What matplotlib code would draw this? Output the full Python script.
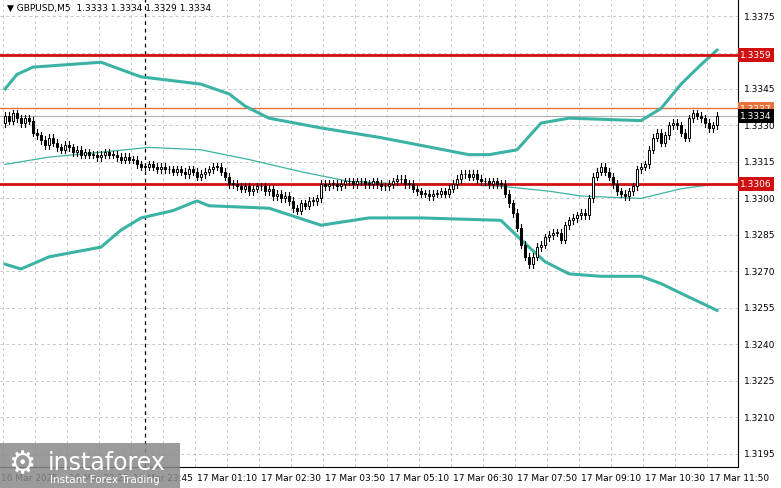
import matplotlib
matplotlib.use("Agg")
import matplotlib.pyplot as plt
from matplotlib.patches import Rectangle

closes = [1.3334,1.3332,1.3335,1.3333,1.3331,1.3333,1.3332,1.3327,1.3326,1.3324,
1.3322,1.3325,1.3323,1.3321,1.3320,1.3322,1.3321,1.3319,1.3320,1.3318,
1.3319,1.3318,1.3318,1.3317,1.3318,1.3319,1.3318,1.3318,1.3317,1.3316,
1.3317,1.3316,1.3316,1.3314,1.3313,1.3313,1.3314,1.3313,1.3312,1.3313,
1.3312,1.3312,1.3311,1.3312,1.3311,1.3310,1.3312,1.3311,1.3309,1.3310,
1.3311,1.3312,1.3313,1.3313,1.3311,1.3309,1.3306,1.3306,1.3305,1.3304,
1.3305,1.3303,1.3304,1.3305,1.3305,1.3303,1.3304,1.3301,1.3302,1.3300,
1.3301,1.3299,1.3296,1.3295,1.3298,1.3297,1.3299,1.3299,1.3300,1.3306,
1.3305,1.3306,1.3306,1.3305,1.3306,1.3307,1.3307,1.3306,1.3307,1.3307,
1.3306,1.3306,1.3307,1.3306,1.3305,1.3305,1.3306,1.3307,1.3308,1.3308,
1.3306,1.3306,1.3304,1.3303,1.3302,1.3302,1.3301,1.3302,1.3302,1.3303,
1.3302,1.3304,1.3306,1.3308,1.3310,1.3310,1.3309,1.3310,1.3308,1.3307,
1.3307,1.3306,1.3307,1.3306,1.3306,1.3302,1.3298,1.3294,1.3288,1.3281,
1.3276,1.3273,1.3276,1.3280,1.3281,1.3284,1.3285,1.3286,1.3286,1.3283,
1.3289,1.3291,1.3292,1.3293,1.3294,1.3293,1.3300,1.3309,1.3311,1.3313,
1.3311,1.3309,1.3306,1.3303,1.3302,1.3301,1.3303,1.3305,1.3312,1.3313,
1.3314,1.3320,1.3325,1.3327,1.3323,1.3326,1.3330,1.3331,1.3330,1.3327,
1.3325,1.3333,1.3335,1.3334,1.3333,1.3331,1.3329,1.3330,1.3334]
first_open = 1.3331
wick = 0.00015

upper_idx = [0,3,7,24,34,44,49,56,60,66,79,94,116,121,128,134,141,159,164,169,174,178]
upper_val = [1.3345,1.3351,1.3354,1.3356,1.3350,1.3348,1.3347,1.3343,1.3338,1.3333,1.3329,1.3325,1.3318,1.3318,1.3320,1.3331,1.3333,1.3332,1.3337,1.3347,1.3355,1.3361]
lower_idx = [0,4,11,24,29,34,42,48,51,66,79,91,104,124,129,135,141,149,159,164,169,178]
lower_val = [1.3273,1.3271,1.3276,1.3280,1.3287,1.3292,1.3295,1.3299,1.3297,1.3296,1.3289,1.3292,1.3292,1.3291,1.3283,1.3274,1.3269,1.3268,1.3268,1.3265,1.3261,1.3254]
mid_idx = [0,11,24,36,49,61,74,86,99,111,124,136,144,159,169,178]
mid_val = [1.3314,1.3317,1.3319,1.3321,1.3320,1.3316,1.3311,1.3307,1.3306,1.3306,1.3305,1.3303,1.3301,1.3300,1.3304,1.3306]

yticks = [1.3375,1.3360,1.3345,1.3330,1.3315,1.3300,1.3285,1.3270,1.3255,1.3240,1.3225,1.3210,1.3195]
xtick_idx = [-1,16,32,48,64,80,96,112,128,144,160,176]
xtick_lab = ["16 Mar 2025","16 Mar 22:25","16 Mar 23:45","17 Mar 01:10","17 Mar 02:30","17 Mar 03:50",
             "17 Mar 05:10","17 Mar 06:30","17 Mar 07:50","17 Mar 09:10","17 Mar 10:30","17 Mar 11:50"]
levels = [1.3359, 1.3306]
orange_level = 1.3337
last_price = 1.3334

fig = plt.figure(figsize=(7.81,4.89), dpi=100)
ax = fig.add_axes([0, 1-468/489, 738/781, 468/489])
ax.set_xlim(-1.25, 183.25)
ax.set_ylim(1.31896, 1.33820)

for t in yticks:
    ax.axhline(t, color="#c8c8c8", lw=0.7, ls=(0,(3,3)), zorder=0)
for k in range(24):
    ax.axvline(-0.5 + 8*k, color="#c8c8c8", lw=0.7, ls=(0,(3,3)), zorder=0)

teal = "#3bb3a4"
ax.plot(upper_idx, upper_val, color=teal, lw=2.2, zorder=2)
ax.plot(lower_idx, lower_val, color=teal, lw=2.2, zorder=2)
ax.plot(mid_idx, mid_val, color=teal, lw=0.9, zorder=2)

ax.axhline(orange_level, color="#e8743b", lw=1.0, zorder=1)
ax.axhline(last_price, color="#b0b0b0", lw=0.8, zorder=1)
for lv in levels:
    ax.axhline(lv, color="#d01010", lw=2.0, zorder=3)
ax.axvline(35, color="black", lw=0.9, ls=(0,(3,3)), zorder=1)

prev = first_open
for i, c in enumerate(closes):
    o = prev
    lo, hi = min(o, c), max(o, c)
    ax.plot([i, i], [lo - wick, hi + wick], color="black", lw=0.8, zorder=4)
    h = max(hi - lo, 0.00002)
    ax.add_patch(Rectangle((i-0.35, lo), 0.7, h, facecolor=("white" if c >= o else "black"),
                           edgecolor="black", lw=0.7, zorder=5))
    prev = c

ax.set_xticks([]); ax.set_yticks([])
for s in ["top","left"]:
    ax.spines[s].set_visible(False)
ax.spines["right"].set_color("black"); ax.spines["bottom"].set_color("black")

for t in yticks:
    ax.text(183.25+1.5, t, f"{t:.4f}", fontsize=6.5, va="center", ha="left", clip_on=False)
def tag(v, txt, fc, tc="white"):
    ax.text(183.25+0.5, v, txt, fontsize=6.5, va="center", ha="left", color=tc, clip_on=False,
            bbox=dict(boxstyle="square,pad=0.25", fc=fc, ec="none"))
tag(levels[0], "1.3359", "#d01010")
tag(levels[1], "1.3306", "#d01010")
tag(orange_level, "1.3337", "#e8743b")
tag(last_price, "1.3334", "black")

for xi, lab in zip(xtick_idx, xtick_lab):
    ax.text(xi, 1.31896-0.00025, lab, fontsize=6.5, va="top", ha="left", clip_on=False)

ax.text(0.5, 1.33820-0.00015, "\u25bc GBPUSD,M5  1.3333 1.3334 1.3329 1.3334", fontsize=6.5, va="top", ha="left")

fig.patches.append(Rectangle((0, 0), 180/781, 45/489, transform=fig.transFigure,
                             facecolor="#8a8a8a", alpha=0.85, zorder=10))
fig.text(48/781, 26/489, "instaforex", fontsize=17, color="white", va="center", ha="left", zorder=11)
fig.text(50/781, 9/489, "Instant Forex Trading", fontsize=7.5, color="white", va="center", ha="left", zorder=11)
fig.text(22/781, 24/489, "\u2699", fontsize=22, color="white", va="center", ha="center", zorder=11)

fig.savefig("out.png", dpi=100, facecolor="white")
